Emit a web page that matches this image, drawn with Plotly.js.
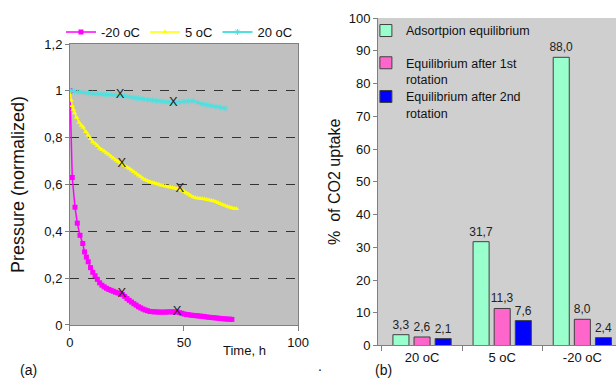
<!DOCTYPE html>
<html>
<head>
<meta charset="utf-8">
<script src="https://cdn.plot.ly/plotly-3.0.1.min.js"></script>
<style>html,body{margin:0;padding:0;background:#fff;}#chart{width:616px;height:379px;}</style>
</head>
<body>
<div id="chart"></div>
<script>
// ---- Panel (a): pressure vs time ----
const tMinus20 = [0,1,2.2,3.2,4.4,5.6,6.4,7.2,8,9,10,11,12,13,14,15,16,17,18,19,20,21,22,23,24,25,26,27,28,29,30,31,32,33,34,35,36,37,38,39,40,41,42,43,44,45,46,47,48,49,50,51,52,53,54,55,56,57,58,59,60,61,62,63,64,65,66,67,68,69,70,71];
const pMinus20 = [1.0,0.63,0.503,0.435,0.383,0.348,0.312,0.29,0.27,0.245,0.225,0.21,0.195,0.18,0.17,0.163,0.157,0.152,0.148,0.144,0.14,0.137,0.135,0.13,0.122,0.113,0.105,0.098,0.091,0.085,0.078,0.073,0.068,0.064,0.061,0.058,0.057,0.056,0.056,0.055,0.055,0.055,0.055,0.056,0.056,0.056,0.056,0.056,0.053,0.05,0.047,0.045,0.044,0.042,0.041,0.04,0.039,0.038,0.037,0.036,0.034,0.033,0.032,0.031,0.03,0.029,0.028,0.027,0.026,0.025,0.025,0.024];

const t5 = [0,0.5,0.9,1.5,2,2.9,4,5,5.8,7,8,9,10,11,12,13,14,15,16,17,18,19,20,21,22,23,24,25,26,27,28,29,30,31,32,33,34,35,36,37,38,39,40,41,42,43,44,45,46,47,48,49,50,51,52,53,54,55,56,57,58,59,60,61,62,63,64,65,66,67,68,69,70,71,72,73];
const p5 = [1.0,0.96,0.936,0.92,0.905,0.886,0.865,0.852,0.844,0.825,0.81,0.795,0.782,0.775,0.765,0.755,0.748,0.742,0.735,0.728,0.72,0.712,0.705,0.698,0.692,0.687,0.68,0.674,0.668,0.661,0.654,0.647,0.64,0.633,0.626,0.62,0.616,0.612,0.609,0.606,0.603,0.6,0.597,0.595,0.592,0.59,0.588,0.586,0.584,0.582,0.58,0.576,0.57,0.564,0.558,0.552,0.547,0.543,0.541,0.54,0.539,0.538,0.536,0.534,0.532,0.529,0.526,0.522,0.518,0.514,0.51,0.506,0.503,0.5,0.498,0.496];

const t20 = [0,2,4,6,8,10,12,14,16,18,20,22,24,26,28,30,32,34,36,38,40,42,44,46,48,50,52,54,56,58,60,62,64,66,68];
const p20 = [1.0,0.997,0.995,0.993,0.99,0.988,0.987,0.986,0.985,0.984,0.983,0.982,0.978,0.974,0.971,0.968,0.965,0.962,0.96,0.957,0.955,0.953,0.951,0.95,0.952,0.954,0.955,0.957,0.95,0.944,0.94,0.936,0.932,0.929,0.926];

// "X" marks on the curves
const markT = [22.7,47,22.7,48.2,22,45.3];
const markP = [0.135,0.055,0.688,0.58,0.982,0.95];

const seriesNames = ['-20 oC','5 oC','20 oC'];

// ---- Panel (b): % of CO2 uptake ----
const categories = ['20 oC','5 oC','-20 oC'];
const adsorption = [3.3,31.7,88.0];
const after1st = [2.6,11.3,8.0];
const after2nd = [2.1,7.6,2.4];
const barNames = ['Adsortpion equilibrium','Equilibrium after 1st<br>rotation','Equilibrium after 2nd<br>rotation'];

const FONT = 'Liberation Sans, Arial, sans-serif';

function barTrace(vals, name, color, leg) {
  return {x:categories, y:vals, name:name, type:'bar', xaxis:'x2', yaxis:'y2', legend:leg,
    marker:{color:color, line:{color:'#404040', width:1}},
    texttemplate:'%{y:.1f}', textposition:'outside', constraintext:'none', cliponaxis:false,
    textfont:{family:FONT, size:12, color:'#222'}};
}

const traces = [
  {x:tMinus20, y:pMinus20, name:seriesNames[0], type:'scatter', mode:'lines+markers', xaxis:'x', yaxis:'y', legend:'legend',
   line:{color:'#FF00FF', width:1.5}, marker:{symbol:'square', size:5, color:'#FF00FF'}},
  {x:t5, y:p5, name:seriesNames[1], type:'scatter', mode:'lines+markers', xaxis:'x', yaxis:'y', legend:'legend',
   line:{color:'#FFFF00', width:1.5}, marker:{symbol:'triangle-up', size:5, color:'#FFFF00'}},
  {x:t20, y:p20, name:seriesNames[2], type:'scatter', mode:'lines+markers', xaxis:'x', yaxis:'y', legend:'legend',
   line:{color:'#4FE0E0', width:2}, marker:{symbol:'asterisk-open', size:5, color:'#4FE0E0', line:{color:'#4FE0E0', width:1}}},
  {x:markT, y:markP, type:'scatter', mode:'text', text:markT.map(()=>'X'), xaxis:'x', yaxis:'y', showlegend:false,
   textfont:{family:FONT, size:13, color:'#222'}, hoverinfo:'skip'},
  barTrace(adsorption, barNames[0], '#99FFCC', 'legend2'),
  barTrace(after1st, barNames[1], '#FF66CC', 'legend3'),
  barTrace(after2nd, barNames[2], '#0000FF', 'legend4')
];

function barLegend(y) {
  return {orientation:'v', x:0.594, y:y, xanchor:'left', yanchor:'top', bgcolor:'rgba(0,0,0,0)',
          font:{size:12.5, color:'#111'}, itemwidth:30, valign:'top'};
}

const layout = {
  width:616, height:379,
  margin:{l:0, r:0, t:0, b:0},
  paper_bgcolor:'#FFFFFF',
  font:{family:FONT, size:13, color:'#111'},
  separators:', ',
  bargap:0.21, bargroupgap:0.24,
  xaxis:{domain:[0.1136,0.4838], anchor:'y', range:[0,100], dtick:50, tick0:0, showgrid:false, zeroline:false,
         showline:true, linecolor:'#808080', linewidth:1, mirror:true, ticks:'outside', ticklen:5, tickcolor:'#808080',
         tickfont:{size:13, color:'#111'}, automargin:false},
  yaxis:{domain:[0.1425,0.8839], anchor:'x', range:[0,1.2], dtick:0.2, tick0:0, showgrid:true, gridcolor:'#333333',
         griddash:'dash', gridwidth:1, zeroline:false, showline:true, linecolor:'#808080', linewidth:1, mirror:true,
         ticks:'outside', ticklen:4, tickcolor:'#808080', tickfont:{size:13, color:'#111'}, automargin:false,
         title:{text:'Pressure (normalized)', font:{size:18, color:'#111'}, standoff:14}},
  xaxis2:{domain:[0.6136,1], anchor:'y2', type:'category', range:[-0.55,2.42], showgrid:false, zeroline:false,
          showline:true, linecolor:'#808080', linewidth:1, ticks:'outside', tickson:'boundaries', ticklen:5,
          tickcolor:'#808080', tickfont:{size:13, color:'#111'}, automargin:false},
  yaxis2:{domain:[0.0884,0.9525], anchor:'x2', range:[0,100], dtick:10, tick0:0, showgrid:false, zeroline:false,
          showline:true, linecolor:'#808080', linewidth:1, mirror:true, ticks:'outside', ticklen:4, tickcolor:'#808080',
          tickfont:{size:13, color:'#111'}, automargin:false,
          title:{text:'%  of CO2 uptake', font:{size:16, color:'#111'}, standoff:4}},
  plot_bgcolor:'#C0C0C0',
  shapes:[
    {type:'rect', xref:'x2 domain', yref:'y2 domain', x0:0, x1:1, y0:0, y1:1, fillcolor:'#CFCFCF', line:{width:0}, layer:'below'}
  ],
  legend:{orientation:'h', x:0.099, y:0.955, xanchor:'left', yanchor:'top', bgcolor:'rgba(0,0,0,0)',
          font:{size:13, color:'#111'}, itemwidth:30, traceorder:'normal'},
  legend2:barLegend(0.958),
  legend3:barLegend(0.873),
  legend4:barLegend(0.784),
  annotations:[
    {text:'Time, h', xref:'paper', yref:'paper', x:0.3977, y:0.074, yanchor:'middle', showarrow:false, font:{size:13, color:'#111'}},
    {text:'(a)', xref:'paper', yref:'paper', x:0.03, y:0.024, yanchor:'middle', showarrow:false, font:{size:14, color:'#111'}},
    {text:'(b)', xref:'paper', yref:'paper', x:0.622, y:0.024, yanchor:'middle', showarrow:false, font:{size:14, color:'#111'}},
    {text:'.', xref:'paper', yref:'paper', x:0.52, y:0.035, yanchor:'middle', showarrow:false, font:{size:14, color:'#111'}}
  ]
};

Plotly.newPlot('chart', traces, layout, {displayModeBar:false, staticPlot:true});
</script>
</body>
</html>
